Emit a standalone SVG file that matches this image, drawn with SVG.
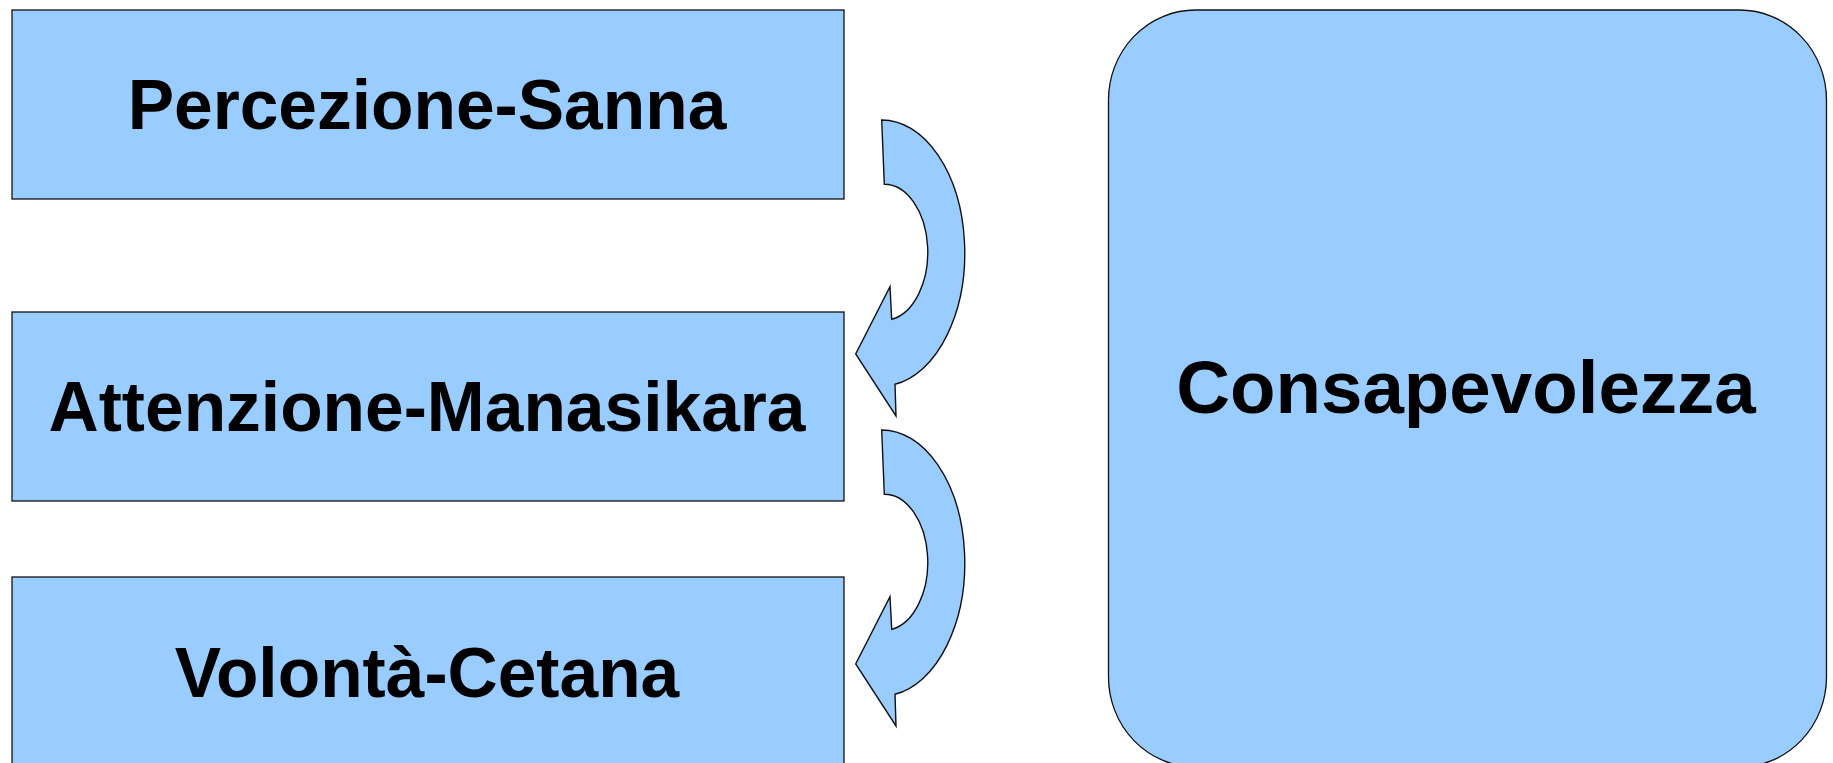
<svg xmlns="http://www.w3.org/2000/svg" width="1833" height="763" viewBox="0 0 1833 763">
<style>
.box{fill:#99ccff;stroke:#111;stroke-width:1.3}
.lbl{font-family:"Liberation Sans",Arial,sans-serif;font-weight:bold;fill:#000;text-anchor:middle}
.arrow{fill:#99ccff;stroke:#111;stroke-width:1.4;stroke-linejoin:miter}
</style>
<defs>
<path id="curved" d="M 881.7 120 A 83 133 0 0 1 895 384.3 L 896 416 L 855.7 354 L 890 286.7 L 891.7 319.3 A 43.5 68 0 0 0 884.3 184.3 Z"/>
</defs>
<rect width="1833" height="763" fill="#ffffff"/>
<g id="percezione">
<rect class="box" x="12" y="10" width="832" height="189"/>
<text class="lbl" x="427" y="129" font-size="69.5">Percezione-Sanna</text>
</g>
<g id="attenzione">
<rect class="box" x="12" y="312" width="832" height="189"/>
<text class="lbl" x="427" y="431" font-size="69.5">Attenzione-Manasikara</text>
</g>
<g id="volonta">
<rect class="box" x="12" y="577" width="832" height="189"/>
<text class="lbl" x="427" y="697" font-size="69.5">Volontà-Cetana</text>
</g>
<g id="consapevolezza">
<rect class="box" x="1108.5" y="10" width="718" height="757" rx="87" ry="90"/>
<text class="lbl" x="1466" y="413" font-size="74.5">Consapevolezza</text>
</g>
<g id="connectors">
<use href="#curved" class="arrow"/>
<use href="#curved" class="arrow" transform="translate(0,310)"/>
</g>
</svg>
